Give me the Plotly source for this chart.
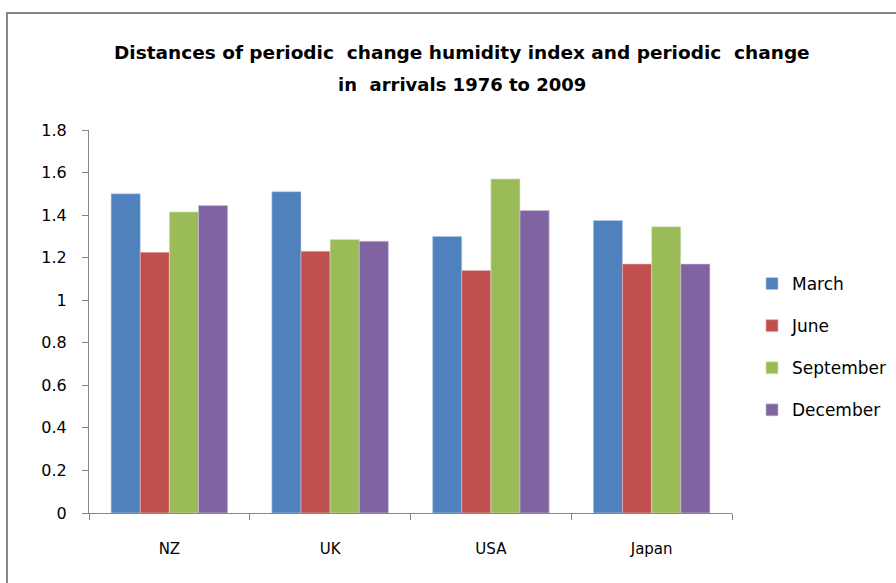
import plotly.graph_objects as go

countries = ["NZ", "UK", "USA", "Japan"]
months = ["March", "June", "September", "December"]
march = [1.50, 1.51, 1.30, 1.375]
june = [1.225, 1.23, 1.14, 1.17]
september = [1.415, 1.285, 1.57, 1.345]
december = [1.445, 1.277, 1.422, 1.17]
series = [march, june, september, december]
colors = ["#4F81BD", "#C0504D", "#9BBB59", "#8064A2"]
outline = ["#B9CDE5", "#E6B9B8", "#D7E4BD", "#CCC1DA"]
y_ticks = [0, 0.2, 0.4, 0.6, 0.8, 1.0, 1.2, 1.4, 1.6, 1.8]
y_labels = ["0", "0.2", "0.4", "0.6", "0.8", "1", "1.2", "1.4", "1.6", "1.8"]
title_lines = ["Distances of periodic  change humidity index and periodic  change",
               "in  arrivals 1976 to 2009"]

FONT = "DejaVu Sans"
fig = go.Figure()
for name, vals, c, oc in zip(months, series, colors, outline):
    fig.add_trace(go.Bar(x=countries, y=vals, name=name, legendgroup=name,
                         marker=dict(color=c, line=dict(color=oc, width=0.6))))

L, R, T, B = 89, 164, 130, 70
W, H = 896, 583
pw, ph = W - L - R, H - T - B

def px_x(x):
    return (x - L) / pw

def px_y(y):
    return (H - B - y) / ph

annotations = []
for txt, yc, sz in zip(title_lines, [52, 85], [18.5, 18]):
    annotations.append(dict(text="<b>" + txt + "</b>", xref="paper", yref="paper",
                            x=px_x(462), y=px_y(yc), xanchor="center", yanchor="middle",
                            showarrow=False, font=dict(size=sz, family=FONT, color="#000000")))

fig.update_layout(
    width=W, height=H,
    margin=dict(l=L, r=R, t=T, b=B, pad=0, autoexpand=False),
    paper_bgcolor="white", plot_bgcolor="white",
    barmode="group", bargap=0.275, bargroupgap=0,
    font=dict(family=FONT, color="#000000"),
    annotations=annotations,
    legend=dict(x=px_x(752), xanchor="left", y=px_y(266), yanchor="top",
                font=dict(size=17, family=FONT), tracegroupgap=17,
                itemwidth=30, bgcolor="rgba(0,0,0,0)"),
    xaxis=dict(showline=True, linecolor="#868686", linewidth=1,
               ticks="outside", tickson="boundaries", ticklen=6, tickcolor="#868686",
               tickfont=dict(size=15, family=FONT), ticklabelstandoff=22,
               showgrid=False, zeroline=False),
    yaxis=dict(range=[0, 1.8], tickvals=y_ticks, ticktext=y_labels,
               showline=True, linecolor="#868686", linewidth=1,
               ticks="outside", ticklen=6, tickcolor="#868686",
               tickfont=dict(size=16, family=FONT), ticklabelstandoff=12,
               showgrid=False, zeroline=False),
    shapes=[
        dict(type="line", xref="paper", yref="paper", x0=px_x(6), x1=px_x(900),
             y0=px_y(13), y1=px_y(13), line=dict(color="#868686", width=2)),
        dict(type="line", xref="paper", yref="paper", x0=px_x(7), x1=px_x(7),
             y0=px_y(12), y1=px_y(590), line=dict(color="#868686", width=2)),
    ],
)
fig.write_html("out.html", config={"displayModeBar": False},
               post_script="document.body.style.margin='0';document.body.style.overflow='hidden';")
